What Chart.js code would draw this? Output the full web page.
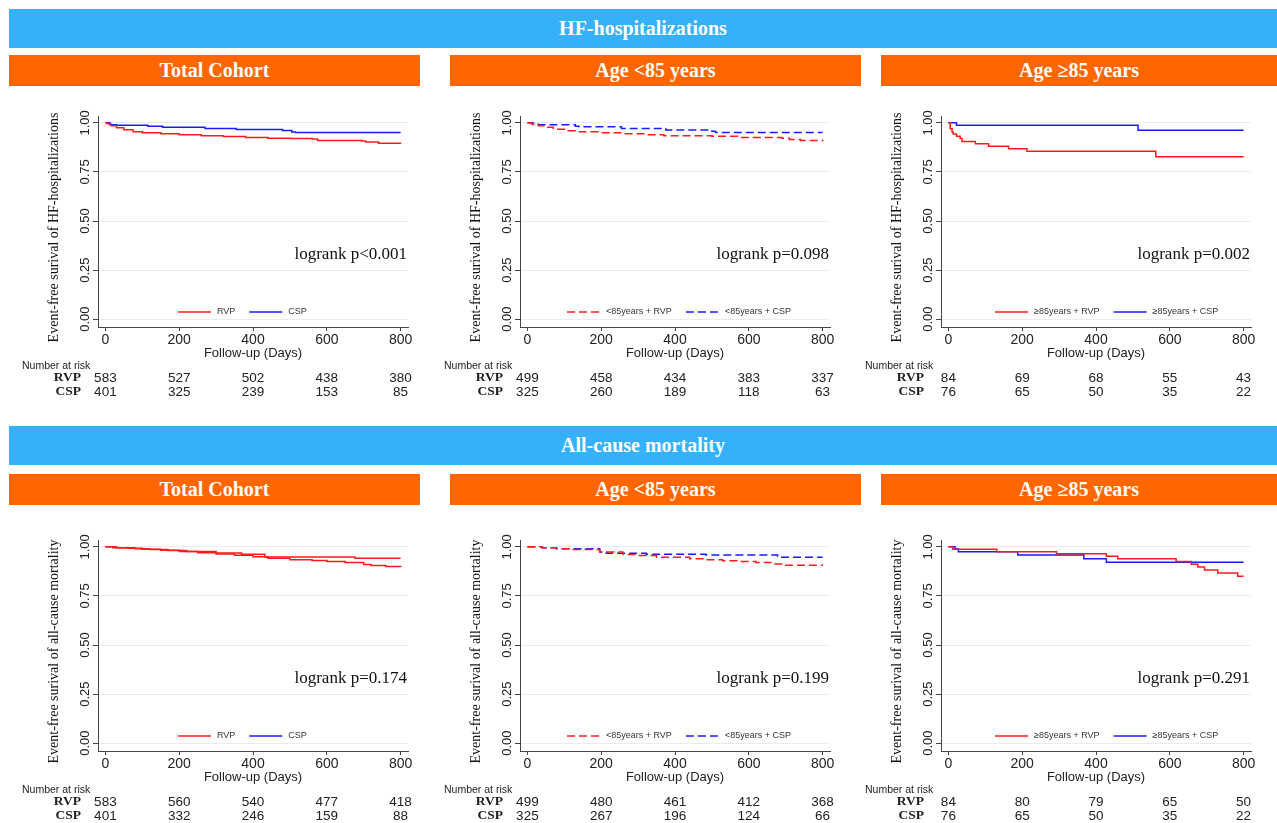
<!DOCTYPE html>
<html>
<head>
<meta charset="utf-8">
<script src="https://cdn.jsdelivr.net/npm/chart.js@4/dist/chart.umd.min.js"></script>
<style>
  body { margin: 0; width: 1277px; height: 823px; position: relative; background: #fff; overflow: hidden; }
  .band { position: absolute; color: #fff; font-family: "Liberation Serif", "Times New Roman", serif; font-weight: bold;
          font-size: 20px; display: flex; align-items: center; justify-content: center; }
  .blue { background: #36b0f8; left: 9px; width: 1268px; height: 39px; }
  .orange { background: #ff6600; height: 31px; }
  canvas { position: absolute; }
</style>
</head>
<body>
<div class="band blue" style="top:9px">HF-hospitalizations</div>
<div class="band orange" style="top:55px;left:9px;width:411px">Total Cohort</div>
<div class="band orange" style="top:55px;left:450px;width:411px">Age &lt;85 years</div>
<div class="band orange" style="top:55px;left:881px;width:396px">Age ≥85 years</div>
<div class="band blue" style="top:426px">All-cause mortality</div>
<div class="band orange" style="top:474px;left:9px;width:411px">Total Cohort</div>
<div class="band orange" style="top:474px;left:450px;width:411px">Age &lt;85 years</div>
<div class="band orange" style="top:474px;left:881px;width:396px">Age ≥85 years</div>
<script>
// axis ticks
const xTicks = [0, 200, 400, 600, 800];
const yTicks = [0, 0.25, 0.5, 0.75, 1];
const yTickLabels = ['0.00', '0.25', '0.50', '0.75', '1.00'];
const riskDays = [0, 200, 400, 600, 800];

// HF hospitalizations, [day, survival]
const hfAllRVP = [[0,1],[5,0.995],[15,0.985],[30,0.975],[50,0.965],[75,0.955],[100,0.95],[150,0.945],[200,0.94],[260,0.935],[320,0.93],[380,0.926],[440,0.922],[500,0.92],[560,0.918],[575,0.91],[695,0.908],[705,0.902],[740,0.896],[800,0.894]];
const hfAllCSP = [[0,1],[12,0.99],[30,0.988],[115,0.983],[155,0.978],[270,0.971],[355,0.966],[480,0.961],[505,0.953],[515,0.951],[800,0.951]];
const hfYoungRVP = [[0,1],[10,0.995],[30,0.985],[45,0.978],[70,0.968],[100,0.96],[130,0.955],[200,0.95],[260,0.945],[320,0.94],[370,0.935],[500,0.932],[570,0.926],[690,0.922],[710,0.915],[740,0.91],[800,0.905]];
const hfYoungCSP = [[0,1],[15,0.99],[130,0.983],[140,0.98],[255,0.971],[375,0.964],[500,0.957],[510,0.951],[800,0.951]];
const hfOldRVP = [[0,1],[5,0.97],[10,0.953],[13,0.943],[22,0.932],[32,0.92],[37,0.905],[73,0.893],[109,0.881],[163,0.868],[213,0.855],[562,0.827],[800,0.827]];
const hfOldCSP = [[0,1],[22,0.988],[514,0.963],[800,0.963]];

// all-cause mortality
const acmAllRVP = [[0,1],[20,0.996],[60,0.993],[100,0.988],[150,0.983],[200,0.977],[250,0.97],[300,0.964],[350,0.957],[400,0.95],[440,0.942],[500,0.935],[560,0.93],[600,0.926],[650,0.92],[700,0.91],[720,0.905],[760,0.9],[800,0.897]];
const acmAllCSP = [[0,1],[30,0.996],[80,0.99],[120,0.987],[170,0.982],[220,0.976],[300,0.969],[369,0.962],[432,0.949],[676,0.942],[800,0.942]];
const acmYoungRVP = [[0,1],[40,0.996],[79,0.991],[124,0.986],[196,0.974],[259,0.961],[304,0.956],[350,0.947],[440,0.94],[484,0.935],[529,0.929],[574,0.925],[619,0.92],[664,0.913],[700,0.906],[800,0.905]];
const acmYoungCSP = [[0,1],[40,0.996],[79,0.991],[196,0.974],[214,0.968],[322,0.963],[484,0.959],[678,0.947],[800,0.947]];
const acmOldRVP = [[0,1],[12,0.988],[131,0.975],[293,0.965],[428,0.952],[459,0.94],[617,0.926],[658,0.912],[676,0.898],[694,0.882],[730,0.867],[784,0.85],[800,0.85]];
const acmOldCSP = [[0,1],[18,0.99],[27,0.975],[188,0.958],[367,0.94],[428,0.922],[800,0.922]];

// number at risk
const hfAllRiskRVP = [583, 527, 502, 438, 380];
const hfAllRiskCSP = [401, 325, 239, 153, 85];
const hfYoungRiskRVP = [499, 458, 434, 383, 337];
const hfYoungRiskCSP = [325, 260, 189, 118, 63];
const hfOldRiskRVP = [84, 69, 68, 55, 43];
const hfOldRiskCSP = [76, 65, 50, 35, 22];
const acmAllRiskRVP = [583, 560, 540, 477, 418];
const acmAllRiskCSP = [401, 332, 246, 159, 88];
const acmYoungRiskRVP = [499, 480, 461, 412, 368];
const acmYoungRiskCSP = [325, 267, 196, 124, 66];
const acmOldRiskRVP = [84, 80, 79, 65, 50];
const acmOldRiskCSP = [76, 65, 50, 35, 22];

const RED = '#ff1a1a';
const BLUE = '#1a1aff';
const SANS = '"Liberation Sans", Arial, sans-serif';
const SERIF = '"Liberation Serif", "Times New Roman", serif';
Chart.defaults.font.family = SANS;

const kmExtras = {
  id: 'kmExtras',
  afterDraw(chart, args, opts) {
    const { ctx, chartArea, scales: { x, y } } = chart;
    ctx.save();
    // y title, a bit below the plot centre like the original
    ctx.fillStyle = '#111';
    ctx.font = '14px ' + SERIF;
    ctx.textAlign = 'center';
    ctx.textBaseline = 'middle';
    ctx.save();
    ctx.translate(54, (chartArea.top + chartArea.bottom) / 2 + 6);
    ctx.rotate(-Math.PI / 2);
    ctx.fillText(opts.yTitle, 0, 0);
    ctx.restore();
    // rotated y tick labels
    ctx.fillStyle = '#222';
    ctx.font = '13px ' + SANS;
    yTicks.forEach((v, i) => {
      ctx.save();
      ctx.translate(85, y.getPixelForValue(v));
      ctx.rotate(-Math.PI / 2);
      ctx.fillText(yTickLabels[i], 0, 0);
      ctx.restore();
    });
    // logrank
    ctx.fillStyle = '#111';
    ctx.font = '17px ' + SERIF;
    ctx.textAlign = 'right';
    ctx.fillText(opts.p, chartArea.right - 1, y.getPixelForValue(0.327));
    // legend inside plot
    let lx = opts.legendX;
    const ly = 212;
    ctx.font = '9px ' + SANS;
    ctx.textAlign = 'left';
    chart.data.datasets.forEach(ds => {
      ctx.strokeStyle = ds.legendColor;
      ctx.lineWidth = 1.5;
      ctx.setLineDash(ds.borderDash || []);
      ctx.beginPath();
      ctx.moveTo(lx, ly);
      ctx.lineTo(lx + 33, ly);
      ctx.stroke();
      ctx.setLineDash([]);
      ctx.fillStyle = '#333';
      ctx.fillText(ds.label, lx + 39, ly);
      lx += 39 + ctx.measureText(ds.label).width + 14;
    });
    // number at risk
    ctx.fillStyle = '#222';
    ctx.font = '10.5px ' + SANS;
    ctx.fillText('Number at risk', 22, 266);
    ctx.font = 'bold 13.5px ' + SERIF;
    ctx.textAlign = 'right';
    ctx.fillText('RVP', 81, 278);
    ctx.fillText('CSP', 81, 292);
    ctx.font = '13.5px ' + SANS;
    ctx.textAlign = 'center';
    riskDays.forEach((d, i) => {
      ctx.fillText(opts.riskRVP[i], x.getPixelForValue(d), 278);
      ctx.fillText(opts.riskCSP[i], x.getPixelForValue(d), 292);
    });
    ctx.restore();
  }
};

function toXY(pts) {
  return pts.map(([d, s]) => ({ x: d, y: s }));
}

function makePanel(cfg) {
  const canvas = document.createElement('canvas');
  canvas.width = 420;
  canvas.height = 305;
  canvas.style.left = cfg.left + 'px';
  canvas.style.top = cfg.top + 'px';
  document.body.appendChild(canvas);
  const dash = cfg.dashed ? [8, 4] : [];
  new Chart(canvas, {
    type: 'line',
    data: {
      datasets: [
        { label: cfg.labels[0], data: toXY(cfg.rvp), borderColor: RED, legendColor: RED,
          borderWidth: 1.5, borderDash: dash, pointRadius: 0, stepped: 'before', fill: false },
        { label: cfg.labels[1], data: toXY(cfg.csp), borderColor: cfg.cspLine || BLUE, legendColor: BLUE,
          borderWidth: 1.5, borderDash: dash, pointRadius: 0, stepped: 'before', fill: false }
      ]
    },
    options: {
      responsive: false,
      animation: false,
      layout: { padding: { left: 0, top: 16, right: 12, bottom: 38 } },
      plugins: {
        legend: { display: false },
        tooltip: { enabled: false },
        kmExtras: { p: cfg.p, yTitle: cfg.yTitle, legendX: cfg.legendX, riskRVP: cfg.riskRVP, riskCSP: cfg.riskCSP }
      },
      scales: {
        x: {
          type: 'linear', min: -20, max: 820,
          afterBuildTicks: s => { s.ticks = xTicks.map(v => ({ value: v })); },
          afterFit: s => { s.height = 40; },
          grid: { drawOnChartArea: false, tickLength: 4, tickColor: '#444' },
          border: { display: true, color: '#444', width: 1 },
          ticks: { color: '#222', font: { size: 14 }, padding: 1, maxRotation: 0 },
          title: { display: true, text: 'Follow-up (Days)', color: '#222', font: { size: 13 }, padding: { top: 0, bottom: 6 } }
        },
        y: {
          type: 'linear', min: -0.04, max: 1.035,
          afterBuildTicks: s => { s.ticks = yTicks.map(v => ({ value: v })); },
          afterFit: s => { s.width = 98; },
          grid: { color: '#e4eef1', tickLength: 5, tickColor: '#444' },
          border: { display: true, color: '#444', width: 1 },
          ticks: { display: false }
        }
      }
    },
    plugins: [kmExtras]
  });
}

const hfTitle = 'Event-free surival of HF-hospitalizations';
const acmTitle = 'Event-free surival of all-cause mortality';

makePanel({ left: 0, top: 100, rvp: hfAllRVP, csp: hfAllCSP, riskRVP: hfAllRiskRVP, riskCSP: hfAllRiskCSP,
  p: 'logrank p<0.001', yTitle: hfTitle, labels: ['RVP', 'CSP'], legendX: 178 });
makePanel({ left: 422, top: 100, rvp: hfYoungRVP, csp: hfYoungCSP, riskRVP: hfYoungRiskRVP, riskCSP: hfYoungRiskCSP,
  p: 'logrank p=0.098', yTitle: hfTitle, labels: ['<85years + RVP', '<85years + CSP'], legendX: 145, dashed: true });
makePanel({ left: 843, top: 100, rvp: hfOldRVP, csp: hfOldCSP, riskRVP: hfOldRiskRVP, riskCSP: hfOldRiskCSP,
  p: 'logrank p=0.002', yTitle: hfTitle, labels: ['≥85years + RVP', '≥85years + CSP'], legendX: 152 });
makePanel({ left: 0, top: 524, rvp: acmAllRVP, csp: acmAllCSP, riskRVP: acmAllRiskRVP, riskCSP: acmAllRiskCSP,
  p: 'logrank p=0.174', yTitle: acmTitle, labels: ['RVP', 'CSP'], legendX: 178, cspLine: RED });
makePanel({ left: 422, top: 524, rvp: acmYoungRVP, csp: acmYoungCSP, riskRVP: acmYoungRiskRVP, riskCSP: acmYoungRiskCSP,
  p: 'logrank p=0.199', yTitle: acmTitle, labels: ['<85years + RVP', '<85years + CSP'], legendX: 145, dashed: true });
makePanel({ left: 843, top: 524, rvp: acmOldRVP, csp: acmOldCSP, riskRVP: acmOldRiskRVP, riskCSP: acmOldRiskCSP,
  p: 'logrank p=0.291', yTitle: acmTitle, labels: ['≥85years + RVP', '≥85years + CSP'], legendX: 152 });
</script>
</body>
</html>
